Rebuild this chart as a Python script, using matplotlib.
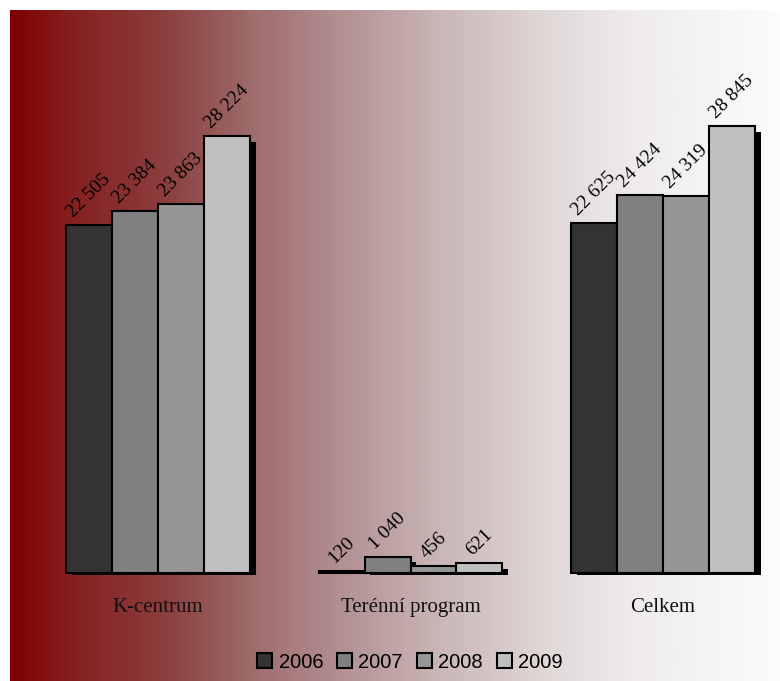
import matplotlib.pyplot as plt
import matplotlib.patheffects as pe
import numpy as np
from matplotlib.colors import LinearSegmentedColormap
from matplotlib.patches import Patch

# data
kategorie = ["K-centrum", "Terénní program", "Celkem"]
roky = ["2006", "2007", "2008", "2009"]
r2006 = [22505, 120, 22625]
r2007 = [23384, 1040, 24424]
r2008 = [23863, 456, 24319]
r2009 = [28224, 621, 28845]
popisky = ["22 505", "120", "22 625", "23 384", "1 040", "24 424",
           "23 863", "456", "24 319", "28 224", "621", "28 845"]
barvy = ["#333333", "#808080", "#969696", "#c0c0c0"]

fig = plt.figure(figsize=(7.8, 6.81), dpi=100)

# pozadi - prechod z tmave cervene do bile
stops = [(0.0, (128, 0, 0)), (0.08, (133, 32, 32)), (0.2, (140, 62, 62)),
         (0.32, (160, 110, 110)), (0.45, (182, 150, 152)), (0.55, (200, 180, 180)),
         (0.68, (222, 212, 212)), (0.8, (238, 234, 234)), (1.0, (252, 252, 252))]
cmap = LinearSegmentedColormap.from_list("bg", [(p, tuple(c / 255 for c in rgb)) for p, rgb in stops])
bg = fig.add_axes([10 / 780, 0, 770 / 780, 671 / 681])
bg.imshow(np.linspace(0, 1, 512).reshape(1, -1), aspect="auto", cmap=cmap, extent=[0, 1, 0, 1])
bg.axis("off")

# hlavni graf
skala = 437 / 28224  # px na jednotku
ymin = -100  # kousek pod nulou, aby se stin pod osou orizl
ymax = 30000
left_px = 158 - 0.45 * 252.5
ax = fig.add_axes([left_px / 780, (108 + ymin * skala) / 681, 2.9 * 252.5 / 780,
                   (ymax - ymin) * skala / 681])
ax.set_facecolor("none")
ax.set_xlim(-0.45, 2.45)
ax.set_ylim(ymin, ymax)

x = np.arange(len(kategorie))
w = 46 / 252.5
serie = [r2006, r2007, r2008, r2009]
stin = [pe.SimplePatchShadow(offset=(4, -4), shadow_rgbFace="black", alpha=1), pe.Normal()]
k = 0
for i, hodnoty in enumerate(serie):
    bars = ax.bar(x + (i - 1.5) * w, hodnoty, w, color=barvy[i], edgecolor="black",
                  linewidth=1.5, zorder=2 + i)
    for b in bars:
        b.set_path_effects(stin)
    for j, b in enumerate(bars):
        ax.annotate(popisky[k], (b.get_x() + b.get_width() / 2, b.get_height()),
                    xytext=(0, 3), textcoords="offset points", ha="center", va="bottom",
                    rotation=45, fontsize=14, family="Liberation Serif", color="black")
        k += 1

ax.set_xticks(x)
ax.set_xticklabels(kategorie, fontsize=15, family="Liberation Serif", color="#111111")
ax.tick_params(axis="x", length=0, pad=17)
ax.set_yticks([])
for s in ax.spines.values():
    s.set_visible(False)

handles = [Patch(facecolor=barvy[i], edgecolor="black", linewidth=1.5, label=roky[i]) for i in range(4)]
fig.legend(handles=handles, loc="center", bbox_to_anchor=(410 / 780, 1 - 662 / 681), ncol=4,
           frameon=False, prop={"family": "Liberation Sans", "size": 14.5},
           handlelength=0.75, handleheight=0.75, handletextpad=0.3, columnspacing=0.7)

fig.savefig("out.png", dpi=100)
